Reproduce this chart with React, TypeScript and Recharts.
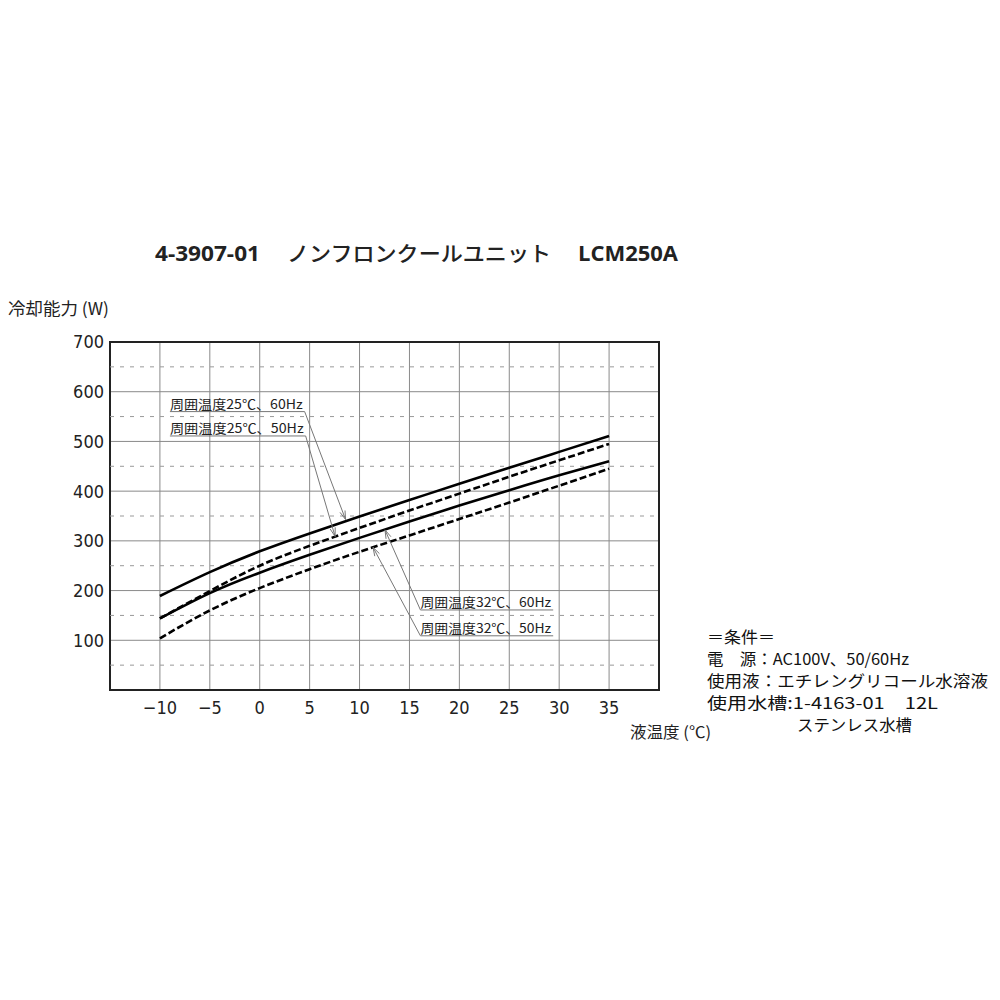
import {
  CartesianGrid,
  Line,
  LineChart,
  ReferenceArea,
  ReferenceLine,
  XAxis,
  YAxis,
} from 'recharts'

// liquid temperature (°C)
const TEMPS = [-10, -5, 0, 5, 10, 15, 20, 25, 30, 35]
// cooling capacity (W)
const CAP_25_60 = [189, 237, 279, 315, 349, 382, 415, 447, 479, 511]
const CAP_25_50 = [144, 199, 250, 290, 326, 361, 395, 429, 462, 495]
const CAP_32_60 = [144, 195, 236, 272, 306, 339, 371, 402, 432, 460]
const CAP_32_50 = [104, 160, 205, 243, 278, 311, 344, 377, 411, 445]

const X_TICKS = [-10, -5, 0, 5, 10, 15, 20, 25, 30, 35]
const Y_TICKS = [100, 200, 300, 400, 500, 600, 700]
const MINOR_Y = [50, 150, 250, 350, 450, 550, 650]

const SERIES = [
  { key: 'c25_60', values: CAP_25_60, dashed: false },
  { key: 'c25_50', values: CAP_25_50, dashed: true },
  { key: 'c32_60', values: CAP_32_60, dashed: false },
  { key: 'c32_50', values: CAP_32_50, dashed: true },
]

// label leaders: underline (data coords), arrow tip on the curve
const LEADERS = [
  { text: '周囲温度25℃、60Hz', x1: -9, x2: 4.5, y: 560, tipX: 8.6, tipY: 343, fromRight: true },
  { text: '周囲温度25℃、50Hz', x1: -9, x2: 4.6, y: 511, tipX: 7.55, tipY: 309, fromRight: true },
  { text: '周囲温度32℃、60Hz', x1: 16.1, x2: 29.4, y: 161, tipX: 12.55, tipY: 322, fromRight: false },
  { text: '周囲温度32℃、50Hz', x1: 16.1, x2: 29.4, y: 109, tipX: 11.35, tipY: 287, fromRight: false },
]

const CONDITIONS = [
  { text: '＝条件＝', x: 707, y: 643, w: 68 },
  { text: '電　源：AC100V、50/60Hz', x: 707, y: 665, w: 202 },
  { text: '使用液：エチレングリコール水溶液', x: 707, y: 687, w: 281 },
  { text: '使用水槽:1-4163-01　12L', x: 707, y: 709, w: 231 },
  { text: 'ステンレス水槽', x: 797, y: 731, w: 115 },
]

const NARROW = "'Liberation Sans Narrow', 'DejaVu Sans Condensed', 'Noto Sans', sans-serif"
const JP = "'Noto Sans CJK JP', 'Noto Sans', sans-serif"

const data = TEMPS.map((t, i) => {
  const row: Record<string, number> = { t }
  SERIES.forEach((s) => (row[s.key] = s.values[i]))
  return row
})

function fmtTick(v: number) {
  return v < 0 ? `\u2212${Math.abs(v)}` : String(v)
}

function underlineShape(text: string) {
  return (p: any) => (
    <g>
      <line x1={p.x1} y1={p.y1} x2={p.x2} y2={p.y2} stroke="#777" strokeWidth={1} />
      <text
        x={p.x1}
        y={p.y1 - 3}
        fontFamily={JP}
        fontSize={13}
        fill="#222"
        textLength={p.x2 - p.x1 - 2}
        lengthAdjust="spacingAndGlyphs"
      >
        {text}
      </text>
    </g>
  )
}

function arrowShape(p: any) {
  const ang = Math.atan2(p.y2 - p.y1, p.x2 - p.x1)
  const len = 9
  const a1 = ang + Math.PI - 0.3
  const a2 = ang + Math.PI + 0.3
  return (
    <g stroke="#777" strokeWidth={1} fill="none">
      <line x1={p.x1} y1={p.y1} x2={p.x2} y2={p.y2} />
      <line x1={p.x2} y1={p.y2} x2={p.x2 + len * Math.cos(a1)} y2={p.y2 + len * Math.sin(a1)} />
      <line x1={p.x2} y1={p.y2} x2={p.x2 + len * Math.cos(a2)} y2={p.y2 + len * Math.sin(a2)} />
    </g>
  )
}

export default function App() {
  return (
    <div style={{ position: 'absolute', left: 0, top: 0, width: 1000, height: 1000, background: '#fff' }}>
      <LineChart
        width={1000}
        height={1000}
        data={data}
        margin={{ top: 342, right: 341, bottom: 280, left: 60 }}
      >
        <CartesianGrid stroke="#8a8a8a" strokeWidth={1} />
        <XAxis
          dataKey="t"
          type="number"
          domain={[-15, 40]}
          ticks={X_TICKS}
          height={30}
          axisLine={false}
          tickLine={false}
          tickMargin={5}
          tickFormatter={fmtTick}
          tick={{ fill: '#222', fontSize: 18, fontFamily: NARROW }}
        />
        <YAxis
          type="number"
          domain={[0, 700]}
          ticks={Y_TICKS}
          width={50}
          axisLine={false}
          tickLine={false}
          tickMargin={0}
          tick={{ fill: '#222', fontSize: 18, fontFamily: NARROW }}
        />
        {MINOR_Y.map((v) => (
          <ReferenceLine key={v} y={v} stroke="#999" strokeDasharray="4 6" strokeWidth={1} />
        ))}
        <ReferenceArea x1={-15} x2={40} y1={0} y2={700} fill="none" stroke="#222" strokeWidth={2} />
        {SERIES.map((s) => (
          <Line
            key={s.key}
            dataKey={s.key}
            type="natural"
            stroke="#000"
            strokeWidth={2.6}
            strokeDasharray={s.dashed ? '7 3' : undefined}
            dot={false}
            activeDot={false}
            isAnimationActive={false}
          />
        ))}
        {LEADERS.map((l) => (
          <ReferenceLine
            key={l.text + 'u'}
            ifOverflow="visible"
            segment={[{ x: l.x1, y: l.y }, { x: l.x2, y: l.y }]}
            shape={underlineShape(l.text)}
          />
        ))}
        {LEADERS.map((l) => (
          <ReferenceLine
            key={l.text + 'a'}
            ifOverflow="visible"
            segment={[{ x: l.fromRight ? l.x2 : l.x1, y: l.y }, { x: l.tipX, y: l.tipY }]}
            shape={arrowShape}
          />
        ))}
      </LineChart>
      <svg
        width={1000}
        height={1000}
        style={{ position: 'absolute', left: 0, top: 0, pointerEvents: 'none' }}
      >
        <text x={155} y={261} fontFamily={"'Open Sans', sans-serif"} fontWeight={700} fontSize={21} fill="#222"
          textLength={105} lengthAdjust="spacingAndGlyphs">4-3907-01</text>
        <text x={287} y={261} fontFamily={JP} fontWeight={500} fontSize={21} fill="#222"
          textLength={264} lengthAdjust="spacingAndGlyphs">ノンフロンクールユニット</text>
        <text x={578} y={261} fontFamily={"'Open Sans', sans-serif"} fontWeight={700} fontSize={21} fill="#222"
          textLength={100} lengthAdjust="spacingAndGlyphs">LCM250A</text>
        <text x={8} y={315} fontFamily={JP} fontSize={17} fill="#222"
          textLength={101} lengthAdjust="spacingAndGlyphs">冷却能力 (W)</text>
        <text x={630} y={738} fontFamily={JP} fontSize={16} fill="#222"
          textLength={81} lengthAdjust="spacingAndGlyphs">液温度 (℃)</text>
        {CONDITIONS.map((c) => (
          <text key={c.text} x={c.x} y={c.y} fontFamily={JP} fontSize={16}
            fontWeight={400} fill="#111"
            textLength={c.w} lengthAdjust="spacingAndGlyphs">{c.text}</text>
        ))}
      </svg>
    </div>
  )
}
